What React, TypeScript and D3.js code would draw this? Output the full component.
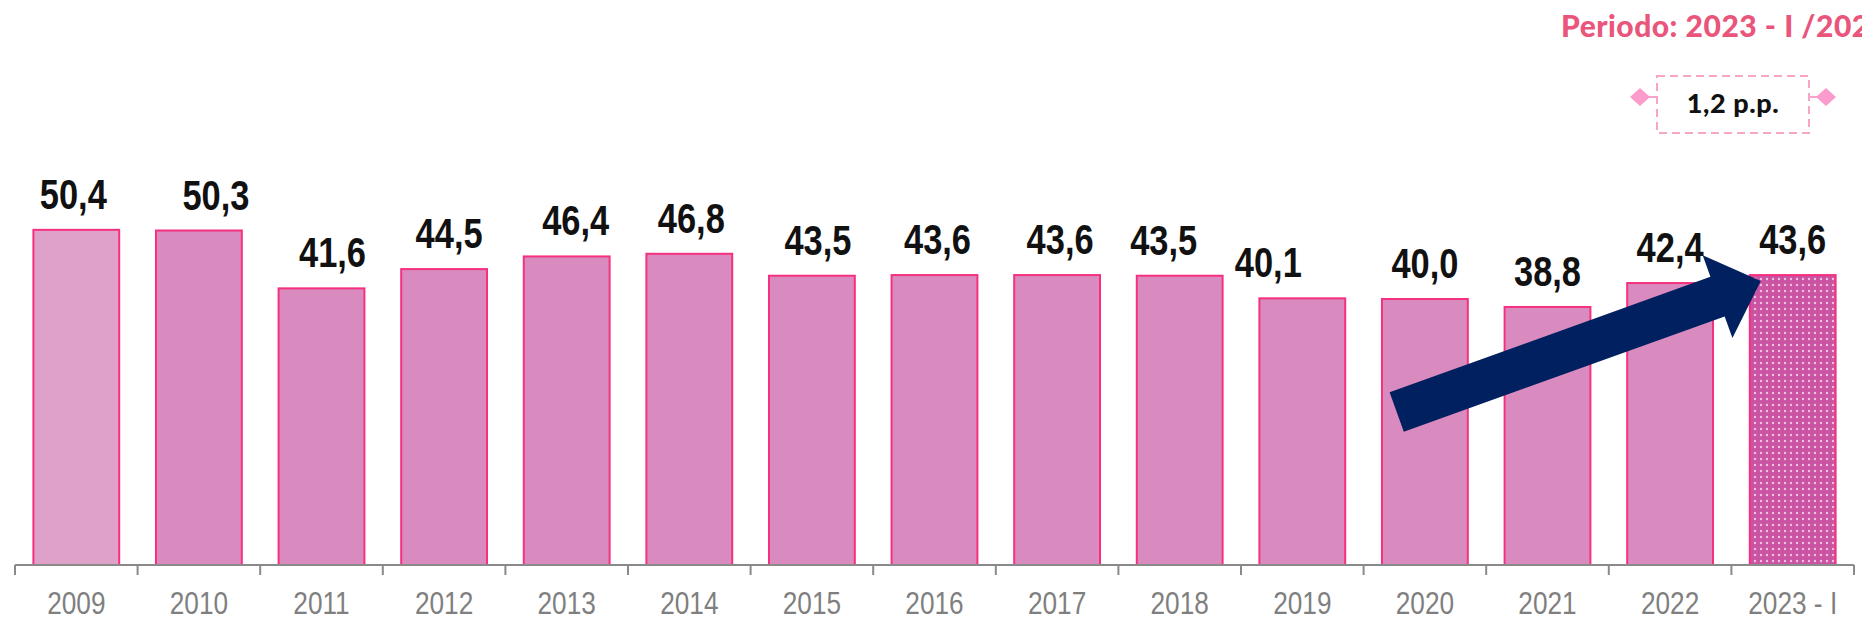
import React from "react";
import * as d3 from "d3";

// ---- data ----
const categories: string[] = [
  "2009", "2010", "2011", "2012", "2013", "2014", "2015", "2016",
  "2017", "2018", "2019", "2020", "2021", "2022", "2023 - I",
];
const values: number[] = [
  50.4, 50.3, 41.6, 44.5, 46.4, 46.8, 43.5, 43.6, 43.6, 43.5, 40.1, 40.0, 38.8, 42.4, 43.6,
];
const valueLabels: string[] = values.map((v) => v.toFixed(1).replace(".", ","));
const periodText = "Periodo: 2023 - I /2024 - I";
const deltaText = "1,2 p.p.";
// arrow annotation in data space (fractional category index, value)
const arrowTail = { idx: 11.27, value: 23.0 };
const arrowTip = { idx: 14.24, value: 42.7 };

// ---- style / layout ----
const W = 1862;
const H = 621;
const axisY = 565;
const x0 = 15;
const x1 = 1854;
const pxPerUnit = 6.65;
const labelGap = 21;
const labelNudgeX = [-3, 17, 11, 5, 9, 2, 6, 3, 3, -16, -34, 0, 0, 0, 0];
const NARROW = 0.82;

export default function App() {
  const x = d3
    .scaleBand<string>()
    .domain(categories)
    .range([x0, x1])
    .paddingInner(0.3)
    .paddingOuter(0.15);
  const y = d3
    .scaleLinear()
    .domain([0, 60])
    .range([axisY, axisY - 60 * pxPerUnit]);
  const step = x.step();
  const bw = x.bandwidth();
  const boundaries = d3.range(categories.length + 1).map((i) => x0 + i * step);
  const idxX = (i: number) => x0 + i * step;

  // arrow polygon
  const tx = idxX(arrowTail.idx), ty = y(arrowTail.value);
  const px = idxX(arrowTip.idx), py = y(arrowTip.value);
  const dx = px - tx, dy = py - ty;
  const len = Math.hypot(dx, dy);
  const ux = dx / len, uy = dy / len;
  const nx = -uy, ny = ux;
  const shaftHalf = 21, headHalf = 44, headLen = 46;
  const bx = px - ux * headLen, by = py - uy * headLen;
  const arrowPts = [
    [tx + nx * shaftHalf, ty + ny * shaftHalf],
    [bx + nx * shaftHalf, by + ny * shaftHalf],
    [bx + nx * headHalf, by + ny * headHalf],
    [px, py],
    [bx - nx * headHalf, by - ny * headHalf],
    [bx - nx * shaftHalf, by - ny * shaftHalf],
    [tx - nx * shaftHalf, ty - ny * shaftHalf],
  ]
    .map((p) => p.join(","))
    .join(" ");

  const fillFor = (i: number) =>
    i === 0 ? "#dfa1ca" : i === categories.length - 1 ? "url(#dots)" : "#d98bbf";

  // delta box
  const boxX = 1657, boxY = 76, boxW = 152, boxH = 57;
  const midY = boxY + 21;

  return (
    <svg
      width={W}
      height={H}
      style={{ position: "absolute", left: 0, top: 0, background: "#fff" }}
    >
      <defs>
        <pattern id="dots" width="6" height="6" patternUnits="userSpaceOnUse">
          <rect width="6" height="6" fill="#ca53a3" />
          <circle cx="3" cy="3" r="1.2" fill="#ffffff" fillOpacity="0.65" />
        </pattern>
      </defs>

      {/* title */}
      <text
        x={1561}
        y={37}
        fontFamily="Lato, 'Open Sans', sans-serif"
        fontWeight={900}
        fontSize={30}
        letterSpacing={0.5}
        fill="#e9557b"
      >
        {periodText}
      </text>

      {/* delta box */}
      <line x1={1640} x2={boxX} y1={midY} y2={midY} stroke="#f9a3cb" strokeWidth={2} />
      <line x1={boxX + boxW} x2={1826} y1={midY} y2={midY} stroke="#f9a3cb" strokeWidth={2} />
      <path d={`M1630,${midY} L1640,${midY - 9} L1650,${midY} L1640,${midY + 9} Z`} fill="#fb9ccc" />
      <path d={`M1816,${midY} L1826,${midY - 9} L1836,${midY} L1826,${midY + 9} Z`} fill="#fb9ccc" />
      <rect
        x={boxX}
        y={boxY}
        width={boxW}
        height={boxH}
        fill="#fff"
        stroke="#f7a6c8"
        strokeWidth={2}
        strokeDasharray="8 5"
      />
      <text
        x={boxX + boxW / 2}
        y={113}
        textAnchor="middle"
        fontFamily="Lato, 'Open Sans', sans-serif"
        fontWeight={900}
        fontSize={27}
        letterSpacing={0.6}
        fill="#111"
      >
        {deltaText}
      </text>

      {/* bars */}
      {categories.map((c, i) => (
        <rect
          key={c}
          x={x(c)}
          y={y(values[i])}
          width={bw}
          height={axisY - y(values[i])}
          fill={fillFor(i)}
          stroke="#f5317f"
          strokeWidth={2}
        />
      ))}

      {/* value labels */}
      {categories.map((c, i) => (
        <text
          key={"l" + c}
          transform={`translate(${(x(c) as number) + bw / 2 + labelNudgeX[i]},${
            y(values[i]) - labelGap
          }) scale(${NARROW},1)`}
          textAnchor="middle"
          fontFamily="'Liberation Sans', Arial, sans-serif"
          fontWeight={700}
          fontSize={42}
          fill="#111"
        >
          {valueLabels[i]}
        </text>
      ))}

      {/* axis */}
      <line x1={x0} x2={x1} y1={axisY} y2={axisY} stroke="#8a8a8a" strokeWidth={2} />
      {boundaries.map((b, i) => (
        <line key={"t" + i} x1={b} x2={b} y1={axisY} y2={axisY + 10} stroke="#8a8a8a" strokeWidth={2} />
      ))}
      {categories.map((c) => (
        <text
          key={"a" + c}
          transform={`translate(${(x(c) as number) + bw / 2},${614}) scale(${NARROW},1)`}
          textAnchor="middle"
          fontFamily="'Liberation Sans', Arial, sans-serif"
          fontSize={32}
          fill="#7f7f7f"
        >
          {c}
        </text>
      ))}

      {/* arrow */}
      <polygon points={arrowPts} fill="#00205f" />
    </svg>
  );
}
